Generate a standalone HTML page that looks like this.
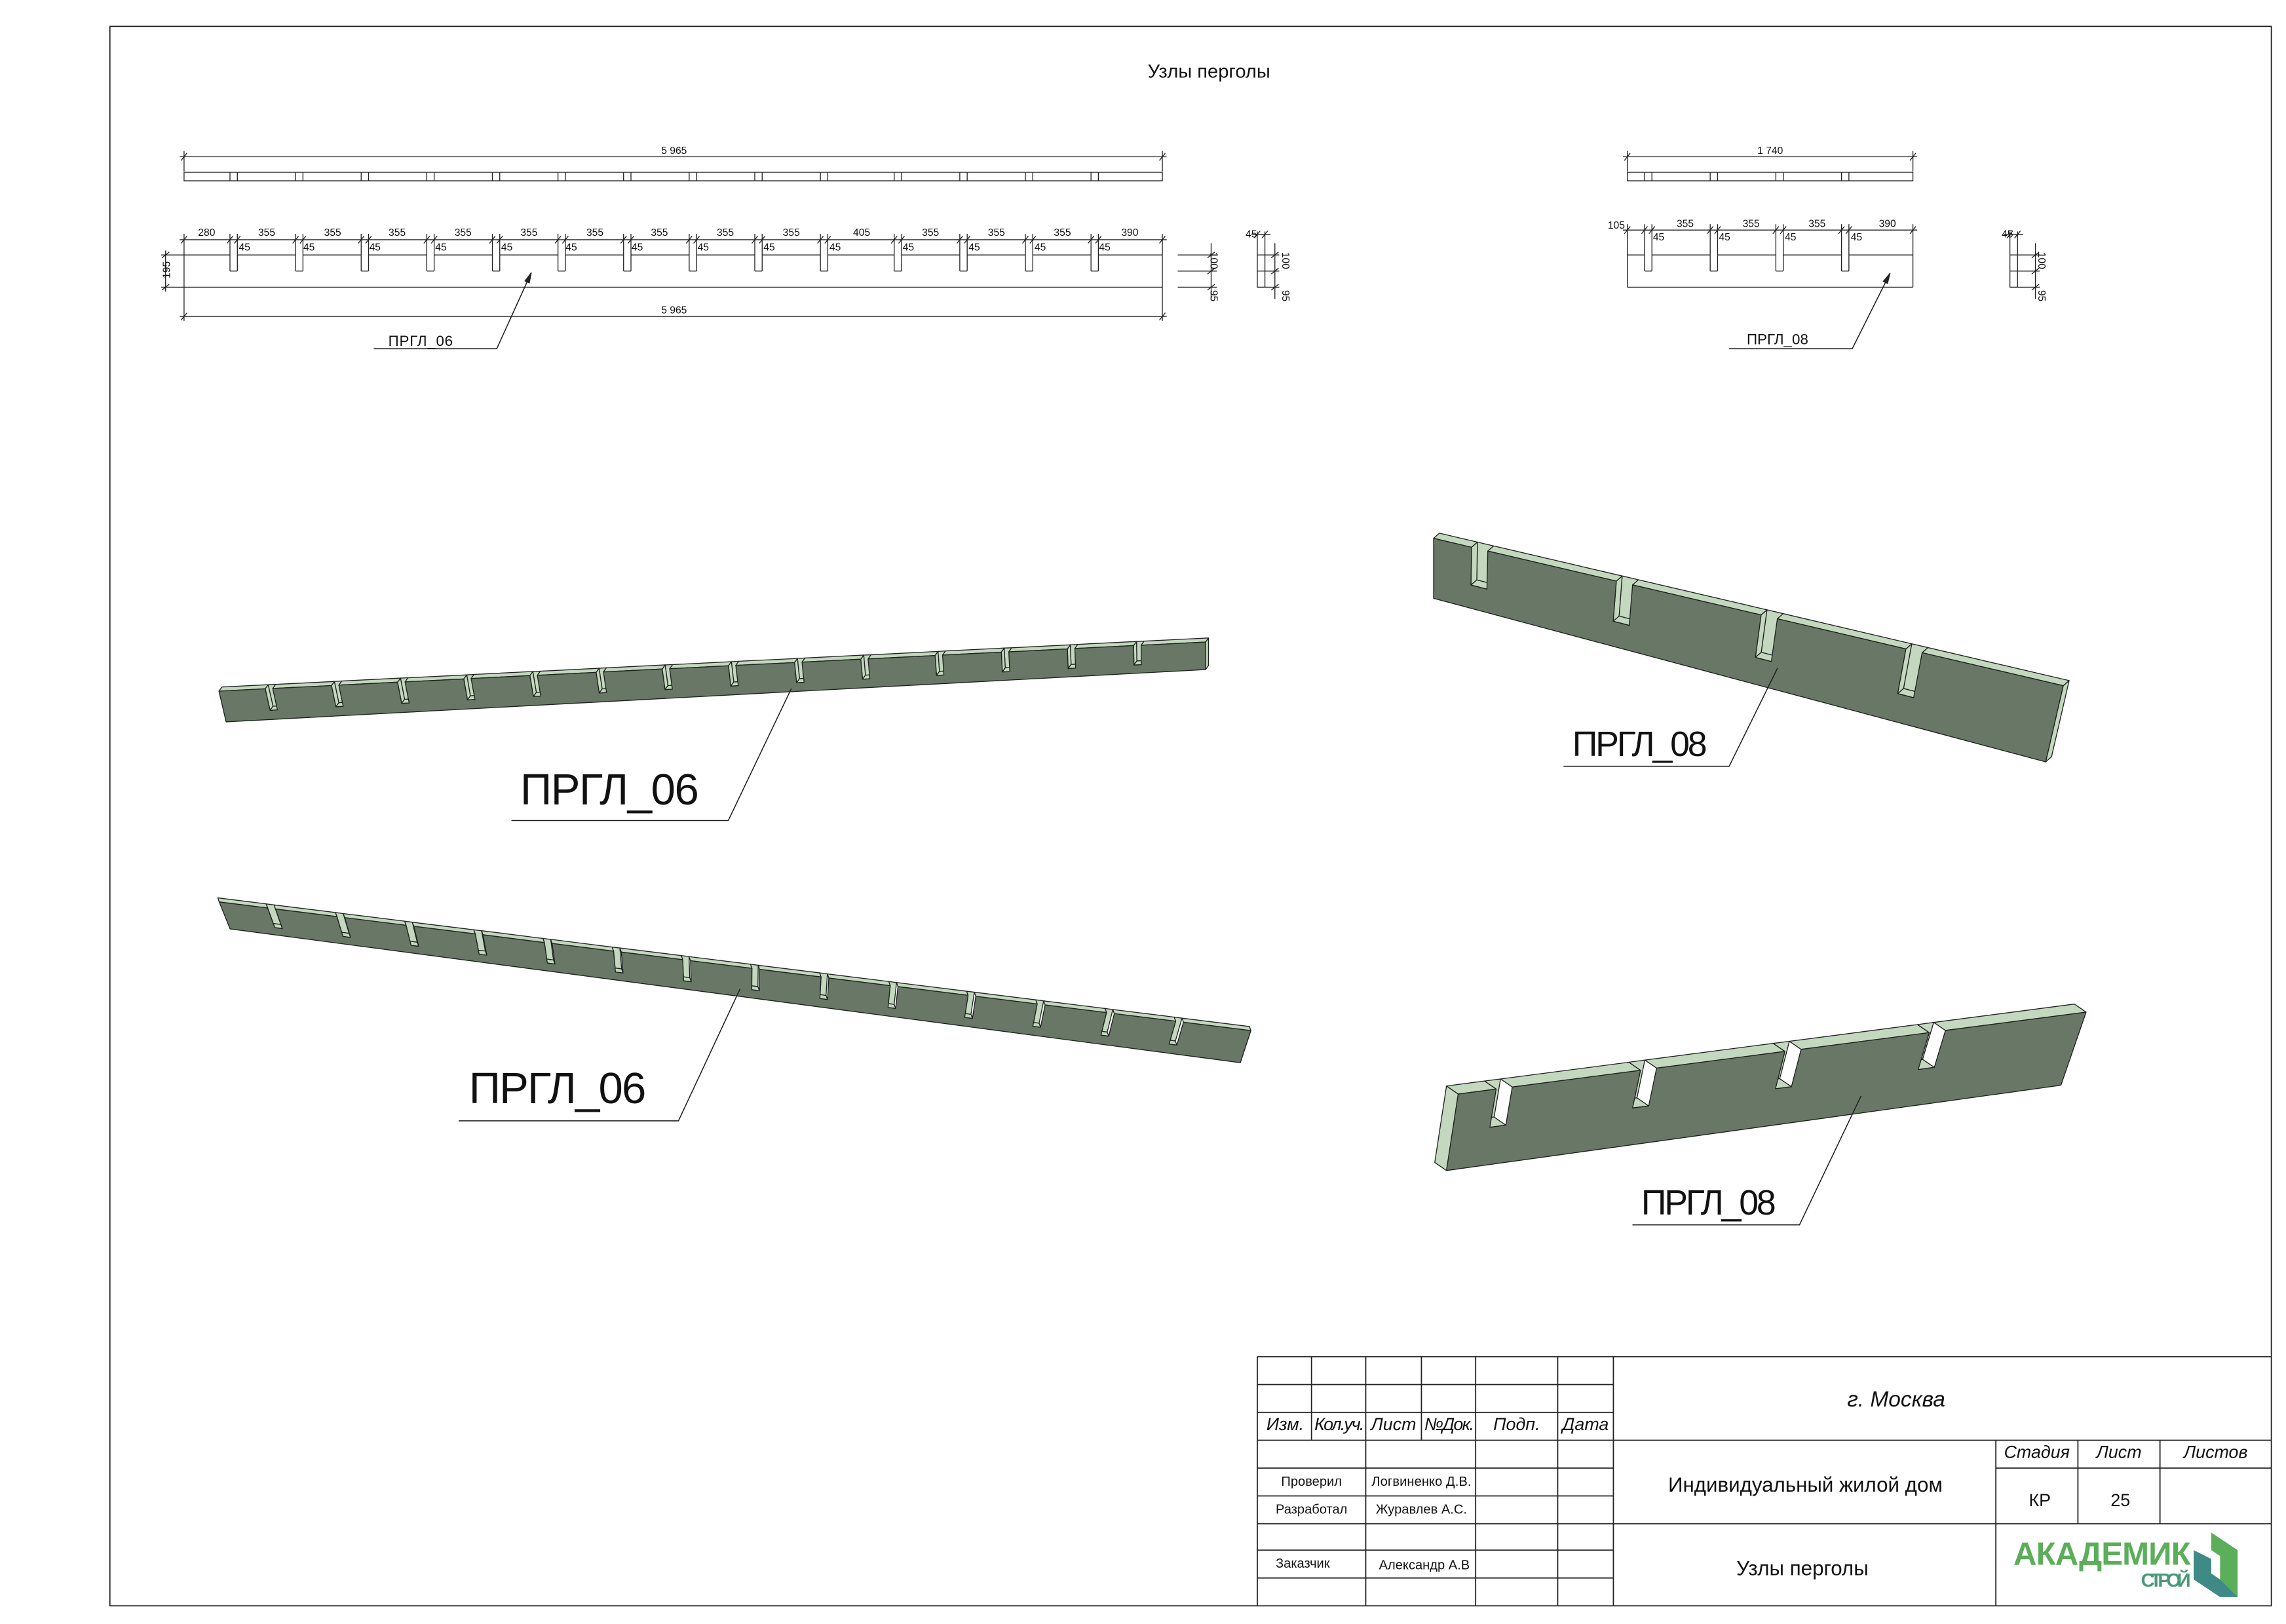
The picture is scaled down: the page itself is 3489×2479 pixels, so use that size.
<!DOCTYPE html>
<html><head><meta charset="utf-8">
<style>
html,body{margin:0;padding:0;background:#fff;}
svg{display:block;}
text{font-family:"Liberation Sans Narrow","Liberation Sans",sans-serif;fill:#111;}
.it{font-style:italic;}
</style></head>
<body>
<svg id="s" xmlns="http://www.w3.org/2000/svg" width="3489" height="2479" viewBox="0 0 1560 1108.4">
<rect x="0" y="0" width="1560" height="1108.4" fill="#fff"/>
<rect x="75" y="18" width="1475" height="1078" fill="none" stroke="#222" stroke-width="0.8"/>
<text x="825" y="53" font-size="13" text-anchor="middle">Узлы перголы</text>

<g id="g2d" stroke="#222" stroke-width="0.6" fill="none"></g>
<g id="g3d"></g>

<g font-size="7" text-anchor="middle">
<text x="460" y="105">5 965</text>
<text x="460" y="214">5 965</text>
<text x="141" y="161">280</text>
<text x="182" y="161">355</text><text x="227" y="161">355</text><text x="271" y="161">355</text>
<text x="316" y="161">355</text><text x="361" y="161">355</text><text x="406" y="161">355</text>
<text x="450" y="161">355</text><text x="495" y="161">355</text><text x="540" y="161">355</text>
<text x="588" y="161">405</text><text x="635" y="161">355</text><text x="680" y="161">355</text>
<text x="725" y="161">355</text><text x="771" y="161">390</text>
<text x="1208" y="105">1 740</text>
<text x="1103" y="156">105</text>
<text x="1150" y="155">355</text><text x="1195" y="155">355</text><text x="1240" y="155">355</text>
<text x="1288" y="155">390</text>
</g>
<g font-size="7">
<text x="163" y="171">45</text><text x="207" y="171">45</text><text x="252" y="171">45</text>
<text x="297" y="171">45</text><text x="342" y="171">45</text><text x="386" y="171">45</text>
<text x="431" y="171">45</text><text x="476" y="171">45</text><text x="521" y="171">45</text>
<text x="566" y="171">45</text><text x="616" y="171">45</text><text x="661" y="171">45</text>
<text x="706" y="171">45</text><text x="750" y="171">45</text>
<text x="1128" y="164">45</text><text x="1173" y="164">45</text><text x="1218" y="164">45</text><text x="1263" y="164">45</text>
<text x="850" y="162">45</text>
<text x="1366" y="162">45</text>
<text transform="translate(116,190) rotate(-90)">195</text>
<text transform="translate(826,172) rotate(90)">100</text>
<text transform="translate(826,198) rotate(90)">95</text>
<text transform="translate(875,172) rotate(90)">100</text>
<text transform="translate(875,198) rotate(90)">95</text>
<text transform="translate(1391,172) rotate(90)">100</text>
<text transform="translate(1391,198) rotate(90)">95</text>
</g>
<text x="265" y="236" font-size="10" textLength="44">ПРГЛ_06</text>
<text x="1192" y="235" font-size="10" textLength="42">ПРГЛ_08</text>

<text x="355" y="549" font-size="30" textLength="122">ПРГЛ_06</text>
<text x="320" y="753" font-size="30" textLength="121">ПРГЛ_06</text>
<text x="1073" y="516" font-size="24" textLength="92">ПРГЛ_08</text>
<text x="1120" y="829" font-size="24" textLength="92">ПРГЛ_08</text>
<g stroke="#222" stroke-width="0.7" fill="none">
<polyline points="540,470 497,560 349,560"/>
<polyline points="505,675 463,765 313,765"/>
<polyline points="1213,456 1180,523 1067,523"/>
<polyline points="1270,748 1228,836 1114,836"/>
<polyline points="362.6,186 339,238 255,238"/>
<polyline points="1289.8,186.5 1264,238 1180,238"/>
</g>

<g stroke="#222" stroke-width="0.8" fill="none">
<line x1="858" y1="926" x2="1550" y2="926"/>
<line x1="858" y1="926" x2="858" y2="1096"/>
<line x1="858" y1="945" x2="1101" y2="945"/>
<line x1="858" y1="964" x2="1101" y2="964"/>
<line x1="858" y1="983" x2="1550" y2="983"/>
<line x1="858" y1="1002" x2="1101" y2="1002"/>
<line x1="858" y1="1021" x2="1101" y2="1021"/>
<line x1="858" y1="1040" x2="1550" y2="1040"/>
<line x1="858" y1="1058" x2="1101" y2="1058"/>
<line x1="858" y1="1077" x2="1101" y2="1077"/>
<line x1="1362" y1="1002" x2="1550" y2="1002"/>
<line x1="895" y1="926" x2="895" y2="983"/>
<line x1="932" y1="926" x2="932" y2="1096"/>
<line x1="970" y1="926" x2="970" y2="983"/>
<line x1="1007" y1="926" x2="1007" y2="1096"/>
<line x1="1063" y1="926" x2="1063" y2="1096"/>
<line x1="1101" y1="926" x2="1101" y2="1096"/>
<line x1="1362" y1="983" x2="1362" y2="1096"/>
<line x1="1418" y1="983" x2="1418" y2="1040"/>
<line x1="1474" y1="983" x2="1474" y2="1040"/>
</g>
<g font-size="12" text-anchor="middle" class="it">
<text x="877" y="976">Изм.</text>
<text x="914" y="976" textLength="34">Кол.уч.</text>
<text x="951" y="976">Лист</text>
<text x="989" y="976" textLength="34">№Док.</text>
<text x="1035" y="976">Подп.</text>
<text x="1082" y="976">Дата</text>
<text x="1390" y="995">Стадия</text>
<text x="1446" y="995">Лист</text>
<text x="1512" y="995">Листов</text>
<text x="1294" y="960" font-size="15">г. Москва</text>
</g>
<g font-size="9" text-anchor="middle">
<text x="895" y="1014">Проверил</text>
<text x="970" y="1014" textLength="68">Логвиненко Д.В.</text>
<text x="895" y="1033">Разработал</text>
<text x="970" y="1033">Журавлев А.С.</text>
<text x="889" y="1070">Заказчик</text>
<text x="972" y="1071">Александр А.В</text>
</g>
<g font-size="14" text-anchor="middle">
<text x="1232" y="1018">Индивидуальный жилой дом</text>
<text x="1230" y="1075">Узлы перголы</text>
<text x="1392" y="1028" font-size="12">КР</text>
<text x="1447" y="1028" font-size="12">25</text>
</g>
<text x="1374" y="1068" font-size="22" font-weight="bold" style="fill:#5cae5a" textLength="121">АКАДЕМИК</text>
<text x="1461" y="1083" font-size="13" font-weight="bold" style="fill:#4a9a7a" textLength="34">СТРОЙ</text>
<polygon points="1509,1046 1527,1058 1527,1090 1515,1082 1515,1062 1509,1058" fill="#5cae5a"/>
<polygon points="1497,1058 1509,1064 1509,1074 1515,1078 1527,1090 1515,1090 1497,1078" fill="#3f8a86"/>

<script>
(function(){
var NS="http://www.w3.org/2000/svg";
var g2=document.getElementById('g2d'), g3=document.getElementById('g3d');
function el(p,tag,a){var e=document.createElementNS(NS,tag);for(var k in a)e.setAttribute(k,a[k]);p.appendChild(e);return e;}
function L(x1,y1,x2,y2,w){el(g2,'line',{x1:x1,y1:y1,x2:x2,y2:y2,'stroke-width':w||0.6});}
function tick(x,y){L(x-2,y+2.5,x+2,y-2.5,0.6);}
function tickV(x,y){L(x-2.5,y+2,x+2.5,y-2,0.6);}
function elev(x0,x1,slotsPx,dimY,sw,hasLeftDim){
  var top=174,sb=185,bot=196;
  el(g2,'rect',{x:x0,y:117.6,width:x1-x0,height:5.8});
  slotsPx.forEach(function(s){L(s,117.6,s,123.4);L(s+sw,117.6,s+sw,123.4);});
  L(x0-3,107,x1+3,107);L(x0,103,x0,117);L(x1,103,x1,117);tick(x0,107);tick(x1,107);
  L(x0,top,x0,bot);L(x1,top,x1,bot);L(x0,bot,x1,bot);
  var cur=x0;
  slotsPx.forEach(function(s){L(cur,top,s,top);L(s,top,s,sb);L(s,sb,s+sw,sb);L(s+sw,sb,s+sw,top);cur=s+sw;});
  L(cur,top,x1,top);
  L(x0-3,dimY,x1+3,dimY);
  var pts=[x0,x1];slotsPx.forEach(function(s){pts.push(s,s+sw);});
  pts.forEach(function(p){L(p,dimY-4,p,top);tick(p,dimY);});
  if(hasLeftDim){L(x0,bot,x0,219);L(x1,bot,x1,219);L(x0-3,216,x1+3,216);tick(x0,216);tick(x1,216);
    L(110,top,x0,top);L(110,bot,x0,bot);L(113,top-3,113,bot+3);tickV(113,top);tickV(113,bot);}
}
var k=667.6/5965,x0=125.6,mm=[280,680,1080,1480,1880,2280,2680,3080,3480,3880,4330,4730,5130,5530];
elev(x0,793.2,mm.map(function(m){return x0+m*k;}),163.6,45*k,true);
var k2=194.9/1740,xr=1110.5,mm2=[105,505,905,1305];
elev(xr,1305.4,mm2.map(function(m){return xr+m*k2;}),157,45*k2,false);
function side(xa,xb,xs,dimx){
  [174,185,196].forEach(function(y){L(xa,y,xb,y);});
  el(g2,'rect',{x:xs,y:174,width:5.2,height:22});L(xs,185,xs+5.2,185);
  [174,185,196].forEach(function(y){L(xs+5.2,y,dimx+3,y);tickV(dimx,y);});
  L(dimx,166,dimx,204);
  L(xs,158,xs,174);L(xs+5.2,158,xs+5.2,174);L(xs-4,160,xs+9,160);tick(xs,160);tick(xs+5.2,160);
}
side(803.7,830.5,858,870);
L(826.5,166,826.5,204);[174,185,196].forEach(function(y){tickV(826.5,y);});
side(2000,2000,1371.6,1389);
function arrow(x,y,ang){var a=ang*Math.PI/180,l=7,w=1.6;
  var bx=x-l*Math.cos(a),by=y-l*Math.sin(a);
  el(g2,'polygon',{points:x+','+y+' '+(bx-w*Math.sin(a))+','+(by+w*Math.cos(a))+' '+(bx+w*Math.sin(a))+','+(by-w*Math.cos(a)),fill:'#222'});}
arrow(362.6,186,-66);arrow(1289.8,186.5,-63);

var FRONT='#687766',LIGHT='#c3d8be',ST='#1e221e';
function board(A,B,C,D,d,slots,f,endf){
  function P(t){return [A[0]+(B[0]-A[0])*t,A[1]+(B[1]-A[1])*t];}
  function Q(t){return [C[0]+(D[0]-C[0])*t,C[1]+(D[1]-C[1])*t];}
  function M(t){var p=P(t),q=Q(t);return [p[0]+(q[0]-p[0])*f,p[1]+(q[1]-p[1])*f];}
  function add(p){return [p[0]+d[0],p[1]+d[1]];}
  function poly(arr,fill){el(g3,'polygon',{points:arr.map(function(p){return p[0].toFixed(1)+','+p[1].toFixed(1);}).join(' '),fill:fill,stroke:ST,'stroke-width':0.6,'stroke-linejoin':'round'});}
  if(endf==='right')poly([P(1),add(P(1)),add(Q(1)),Q(1)],LIGHT);
  if(endf==='left')poly([P(0),add(P(0)),add(Q(0)),Q(0)],LIGHT);
  slots.forEach(function(s){poly([add(P(s[0])),add(P(s[1])),add(M(s[1])),add(M(s[0]))],LIGHT);poly([P(s[0]),add(P(s[0])),add(M(s[0])),M(s[0])],LIGHT);poly([M(s[0]),add(M(s[0])),add(M(s[1])),M(s[1])],LIGHT);});
  var cur=0;slots.concat([[1,1]]).forEach(function(s){poly([P(cur),P(s[0]),add(P(s[0])),add(P(cur))],LIGHT);cur=s[1];});
  var pts=[P(0)];slots.forEach(function(s){pts.push(P(s[0]),M(s[0]),M(s[1]),P(s[1]));});
  pts.push(P(1),Q(1),Q(0));poly(pts,FRONT);
}
var s1=mm.map(function(m){return [m/5965,(m+45)/5965];});
var s2=mm2.map(function(m){return [m/1740,(m+45)/1740];});
board([149.4,471.7],[822.7,438.2],[154.3,492.7],[822.7,457],[2,-2.8],s1,0.7,'right');
board([149.6,615.6],[853.6,703.4],[157,634],[846.4,725.3],[-1,-2.8],s1,0.72,'right');
board([978.3,367.4],[1408,468],[978.3,408.4],[1396,520],[4,-3.5],s2,0.62,'right');
board([995.1,746.7],[1423.6,690.8],[987.1,798.9],[1406.4,740.7],[-8,-5.5],s2,0.5,'left');
})();
</script>
</svg>
</body></html>
